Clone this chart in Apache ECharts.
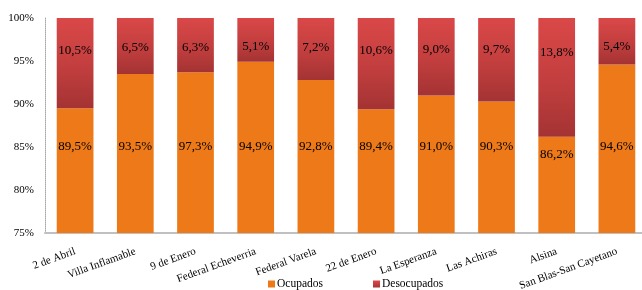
<!DOCTYPE html>
<html>
<head>
<meta charset="utf-8">
<script src="https://cdn.jsdelivr.net/npm/echarts@6/dist/echarts.min.js"></script>
<style>
  html, body { margin: 0; padding: 0; background: #fff; }
  #chart { width: 642px; height: 290px; }
</style>
</head>
<body>
<div id="chart"></div>
<script>
var categories = ['2 de Abril', 'Villa Inflamable', '9 de Enero', 'Federal Echeverria', 'Federal Varela',
  '22 de Enero', 'La Esperanza', 'Las Achiras', 'Alsina', 'San Blas-San Cayetano']
// bar heights as drawn
var ocupados = [89.5, 93.5, 93.7, 94.9, 92.8, 89.4, 91.0, 90.3, 86.2, 94.6]
// values as printed on the bars (9 de Enero printed 97,3)
var ocupadosPrinted = [89.5, 93.5, 97.3, 94.9, 92.8, 89.4, 91.0, 90.3, 86.2, 94.6]
var desocupados = [10.5, 6.5, 6.3, 5.1, 7.2, 10.6, 9.0, 9.7, 13.8, 5.4]
var yTicks = { min: 75, max: 100, interval: 5 }

var font = 'Liberation Serif'
var gridTop = 18, gridBottom = 57
var pxPerPct = (290 - gridTop - gridBottom) / (yTicks.max - yTicks.min)

function fmt (v) {
  return v.toFixed(1).replace('.', ',') + '%'
}

var ocData = ocupados.map(function (v, i) {
  var off = Math.max(18, (v - 85.1) * pxPerPct)
  return {
    value: v,
    label: { position: ['50%', off], formatter: fmt(ocupadosPrinted[i]) }
  }
})
var deData = desocupados.map(function (v) {
  return {
    value: v,
    label: { position: ['50%', 25 + v * 0.7] }
  }
})

var chart = echarts.init(document.getElementById('chart'))
chart.setOption({
  animation: false,
  textStyle: { fontFamily: font, color: '#000' },
  grid: {
    left: 45, right: -5, top: gridTop, bottom: gridBottom,
    containLabel: false, outerBoundsMode: 'none'
  },
  legend: {
    data: ['Ocupados', 'Desocupados'],
    left: 263,
    top: 273,
    icon: 'rect',
    itemWidth: 7,
    itemHeight: 7,
    itemGap: 50,
    textStyle: { fontFamily: font, fontSize: 11.5, color: '#000', padding: [0, 0, 0, -3] }
  },
  xAxis: {
    type: 'category',
    data: categories,
    axisLine: { lineStyle: { color: '#c0c0c0', width: 2 } },
    axisTick: { show: false },
    axisLabel: { interval: 0, rotate: 20, margin: 18, fontFamily: font, fontSize: 11, color: '#000' }
  },
  yAxis: {
    type: 'value',
    min: yTicks.min,
    max: yTicks.max,
    interval: yTicks.interval,
    splitLine: { show: false },
    axisTick: { show: false },
    axisLine: { show: true, lineStyle: { color: '#a6a6a6', type: 'dotted', width: 1 } },
    axisLabel: { formatter: '{value}%', margin: 11, fontFamily: font, fontSize: 11, color: '#000' }
  },
  series: [
    {
      name: 'Ocupados',
      type: 'bar',
      stack: 'total',
      barWidth: '61%',
      itemStyle: { color: '#ee7918' },
      label: {
        show: true, align: 'center', verticalAlign: 'middle',
        fontFamily: font, fontSize: 13, color: '#000'
      },
      data: ocData
    },
    {
      name: 'Desocupados',
      type: 'bar',
      stack: 'total',
      barWidth: '61%',
      itemStyle: {
        color: new echarts.graphic.LinearGradient(0, 0, 0, 1, [
          { offset: 0, color: '#da4848' },
          { offset: 0.55, color: '#c23e3e' },
          { offset: 1, color: '#a43333' }
        ])
      },
      label: {
        show: true, align: 'center', verticalAlign: 'middle',
        fontFamily: font, fontSize: 13, color: '#000',
        formatter: function (p) { return fmt(p.value) }
      },
      data: deData
    }
  ]
})
</script>
</body>
</html>
